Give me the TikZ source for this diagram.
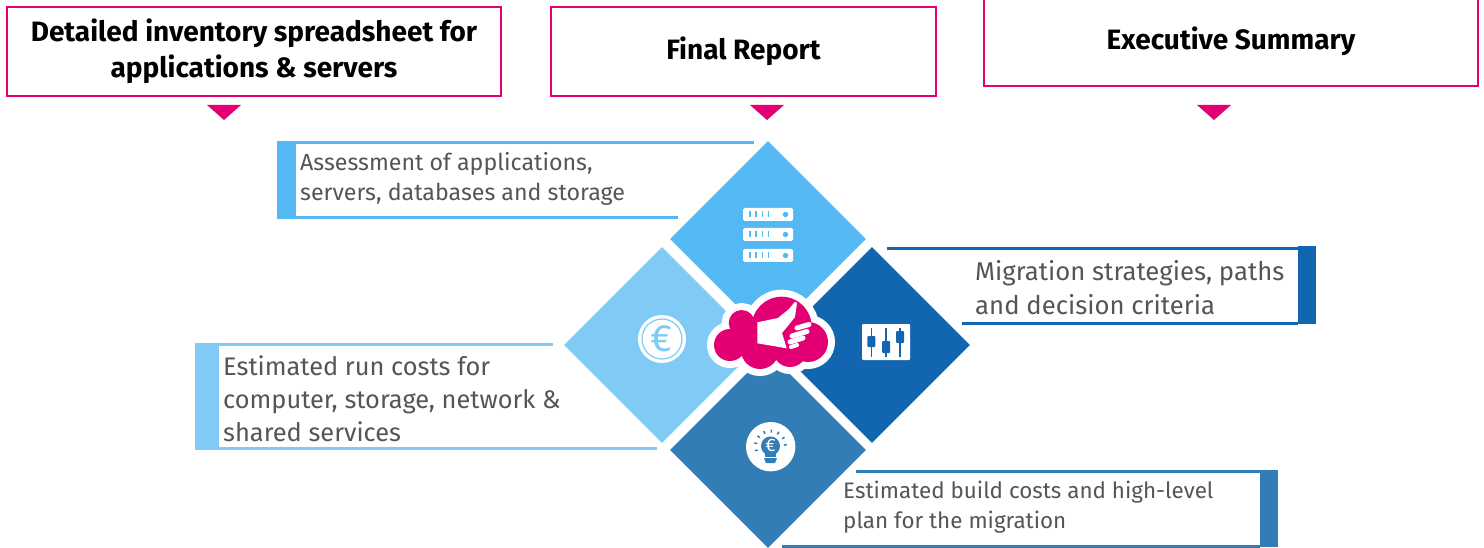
\documentclass[tikz,border=0pt]{standalone}
\usepackage{fontspec}
\setmainfont{Fira Sans}
\usetikzlibrary{shapes}

\definecolor{telekom}{HTML}{E20074}
\definecolor{topblue}{HTML}{54B9F2}
\definecolor{leftblue}{HTML}{7FCBF5}
\definecolor{rightblue}{HTML}{1265AF}
\definecolor{bottomblue}{HTML}{327DB6}
\definecolor{bodygrey}{HTML}{555555}

\tikzset{
  reportbox/.style={draw=telekom, line width=2.4pt, minimum width=#1, align=center, inner sep=0pt, font=\fontsize{28}{36}\selectfont\bfseries},
  quadrant/.style={diamond, fill=#1, minimum width=196pt, minimum height=196pt, inner sep=0pt},
  paneltext/.style={anchor=west, align=left, inner sep=0pt, text=bodygrey},
  panelline/.style={line width=3pt}
}

\newcommand{\cloudlobes}{(781.7,326.7) circle (30) (741.7,323) circle (13) (730,345) circle (16) (760,350) circle (19) (790,350) circle (17) (808,342) circle (20) (735,355) rectangle (810,325)}

\begin{document}
\begin{tikzpicture}[x=1pt,y=-1pt]
\useasboundingbox (0,0) rectangle (1484,548);

% report boxes
\node (inventorybox) at (254,51.5) [reportbox=494pt, minimum height=89pt] {\raisebox{-1pt}{Detailed inventory spreadsheet for}\\\raisebox{-1pt}{applications \& servers}};
\node (reportbox) at (743.5,51.5) [reportbox=385pt, minimum height=89pt] {Final Report};
\node (summarybox) at (1231,41) [reportbox=494pt, minimum height=90pt] {Executive Summary};

% pointers under the boxes
\fill[telekom] (207,105) -- (241,105) -- (224,120) -- cycle;
\fill[telekom] (750,105) -- (784,105) -- (767,120) -- cycle;
\fill[telekom] (1197,105) -- (1231,105) -- (1214,120) -- cycle;

% text panels
\fill[topblue] (277,141) rectangle (296,219);
\draw[topblue, panelline] (277,142.5) -- (754,142.5);
\draw[topblue, panelline] (277,218) -- (678,218);
\node (assessment) at (300,179) [paneltext, font=\fontsize{23.2}{30}\selectfont] {Assessment of applications,\\servers, databases and storage};

\fill[leftblue] (195,342.5) rectangle (219,450);
\draw[leftblue, panelline] (195,344) -- (553,344);
\draw[leftblue, panelline] (195,448) -- (657,448);
\node (runcosts) at (223,399) [paneltext, font=\fontsize{25.4}{33}\selectfont] {Estimated run costs for\\computer, storage, network \&\\shared services};

\fill[rightblue] (1298,246) rectangle (1316,324);
\draw[rightblue, panelline] (887,249) -- (1298,249);
\draw[rightblue, panelline] (962,323) -- (1298,323);
\node (strategies) at (975,288) [paneltext, font=\fontsize{25.7}{34}\selectfont] {Migration strategies, paths\\and decision criteria};

\fill[bottomblue] (1260,470) rectangle (1278,547);
\draw[bottomblue, panelline] (856,471) -- (1260,471);
\draw[bottomblue, panelline] (782,546) -- (1260,546);
\node (buildcosts) at (843,507) [paneltext, font=\fontsize{22.4}{30}\selectfont] {Estimated build costs and high-level\\plan for the migration};

% four quadrants
\node (topdiamond) at (768,239) [quadrant=topblue] {};
\node (leftdiamond) at (662,345) [quadrant=leftblue] {};
\node (rightdiamond) at (872,345) [quadrant=rightblue] {};
\node (bottomdiamond) at (768,450) [quadrant=bottomblue] {};

% server icon
\fill[white, rounded corners=1.5pt] (743,208) rectangle (793,221);
\fill[white, rounded corners=1.5pt] (743,228) rectangle (793,241);
\fill[white, rounded corners=1.5pt] (743,249) rectangle (793,262);
\draw[topblue, line width=6pt, dash pattern=on 1.5pt off 4.8pt] (749,214.5) -- (769,214.5);
\draw[topblue, line width=6pt, dash pattern=on 1.5pt off 4.8pt] (749,234.5) -- (769,234.5);
\draw[topblue, line width=6pt, dash pattern=on 1.5pt off 4.8pt] (749,255.5) -- (769,255.5);
\fill[topblue] (785.5,214.5) circle (2.7);
\fill[topblue] (785.5,234.5) circle (2.7);
\fill[topblue] (785.5,255.5) circle (2.7);

% euro coin
\fill[white] (662,339) circle (24);
\draw[leftblue, line width=1.2pt] (662,339) circle (20);
\node (euro) at (661,339) [text=leftblue, font=\fontsize{38}{38}\selectfont, inner sep=0pt] {€};

% slider icon
\fill[white, rounded corners=1pt] (862,324) rectangle (910,360);
\draw[rightblue, line width=1.5pt] (871.3,328) -- (871.3,357);
\draw[rightblue, line width=1.5pt] (886,328) -- (886,357);
\draw[rightblue, line width=1.5pt] (900,328) -- (900,357);
\fill[rightblue, rounded corners=1pt] (867.3,336) rectangle (875.3,347);
\fill[rightblue, rounded corners=1pt] (882,341) rectangle (890,353);
\fill[rightblue, rounded corners=1pt] (896,331) rectangle (904,343);

% bulb icon
\fill[white] (770.7,446.7) circle (24.7);
\fill[bottomblue] (770.5,446) circle (9.5);
\fill[bottomblue] (765,452) -- (776,452) -- (776,457) -- (765,457) -- cycle;
\fill[bottomblue] (764,458) -- (777,458) -- (775,463) -- (766,463) -- cycle;
\draw[bottomblue, line width=3pt, dash pattern=on 1.5pt off 5.7pt] (770.5,446) ++(160:15) arc (160:380:15);
\node (bulbeuro) at (770.5,445.5) [text=white, font=\fontsize{18}{18}\selectfont, inner sep=0pt] {€};

% cloud with hand
\draw[white, line width=14pt, fill=white] \cloudlobes;
\fill[telekom] \cloudlobes;
\fill[white] (757.3,322.3) -- (778,318) -- (789,309) -- (795,301.7) -- (797,303) -- (795,317) -- (787,327) -- (782,333) -- (786.7,348.3) -- (757.3,343.3) -- cycle;
\draw[white, line width=5pt, line cap=round] (797,328) -- (809,324.5);
\draw[white, line width=5pt, line cap=round] (792,336) -- (807,331.5);
\draw[white, line width=5pt, line cap=round] (790,342) -- (803,338);
\draw[white, line width=4pt, line cap=round] (791,347) -- (797,345);

\end{tikzpicture}
\end{document}
